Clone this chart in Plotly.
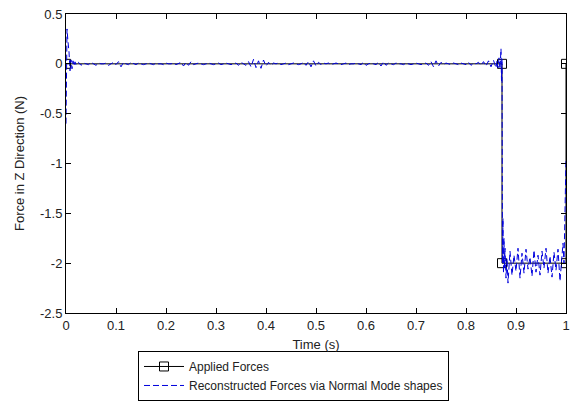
import numpy as np
import plotly.graph_objects as go

# Applied (reference) force: step from 0 N down to -2 N and back
applied_t = [0.0, 0.872, 0.872, 1.0, 1.0]
applied_f = [0.0, 0.0, -2.0, -2.0, 0.0]

# Reconstructed force, start-up transient
start_t = [0.0, 0.002, 0.004, 0.006, 0.008, 0.010, 0.012, 0.014, 0.016, 0.018, 0.020]
start_f = [-0.60, 0.35, 0.22, 0.12, -0.07, 0.04, -0.05, 0.03, -0.02, 0.02, -0.01]

# Reconstructed force on the 0 N plateau, sampled every 5 ms from 0.025 s to 0.860 s
plateau_f = [
    0.015, -0.015, 0.008, 0.0, -0.008, 0.015, 0.0, -0.015, 0.008, 0.0,
    0.0, 0.008, -0.015, 0.0, 0.015, -0.008, 0.022, -0.03, 0.015, 0.0,
    -0.008, 0.015, 0.0, -0.008, 0.008, 0.0, -0.008, 0.0, 0.008, 0.0,
    -0.008, 0.008, 0.0, 0.0, -0.008, 0.008, 0.0, 0.0, 0.008, -0.008,
    0.0, 0.015, -0.022, 0.015, -0.015, 0.022, -0.008, 0.0, 0.008, 0.0,
    -0.008, 0.0, 0.008, 0.0, -0.008, 0.0, 0.008, -0.008, 0.0, 0.008,
    0.0, -0.008, 0.0, 0.008, -0.015, 0.015, 0.0, -0.015, 0.022, -0.03,
    0.045, -0.038, 0.03, -0.045, 0.038, -0.022, 0.015, -0.015, 0.008, 0.0,
    0.008, -0.008, 0.0, 0.008, -0.008, 0.0, 0.008, 0.0, -0.008, 0.0,
    0.015, -0.015, 0.022, -0.03, 0.03, -0.022, 0.015, -0.008, 0.008, 0.0,
    0.008, -0.008, 0.0, 0.008, 0.0, -0.008, 0.0, 0.008, -0.008, 0.0,
    0.0, 0.008, 0.0, -0.008, 0.015, -0.015, 0.0, 0.008, 0.0, -0.008,
    0.015, -0.022, 0.022, -0.015, 0.008, 0.0, -0.008, 0.008, 0.0, 0.0,
    -0.008, 0.008, 0.0, -0.008, 0.0, 0.008, 0.0, -0.008, 0.0, 0.008,
    -0.015, 0.022, -0.03, 0.03, -0.022, 0.015, -0.008, 0.008, 0.0, -0.008,
    0.008, 0.0, -0.008, 0.008, 0.0, -0.008, 0.015, -0.015, 0.008, 0.0,
    0.015, -0.015, 0.022, -0.022, 0.03, -0.03, 0.035, -0.04,
]
plateau_t = list(np.linspace(0.025, 0.860, len(plateau_f)))

# Reconstructed force through the step down
drop_t = [0.862, 0.864, 0.866, 0.868, 0.870, 0.871, 0.872, 0.873, 0.874, 0.875,
          0.876, 0.877, 0.878, 0.880, 0.882, 0.884]
drop_f = [0.03, -0.04, 0.06, -0.05, 0.15, -0.17, 0.05, -2.0, -1.55, -2.1,
          -1.75, -2.05, -1.85, -2.15, -1.95, -2.2]

# Reconstructed force on the -2 N plateau, sampled every 4 ms from 0.888 s to 0.992 s
low_f = [-1.88, -2.12, -1.92, -2.08, -1.85, -2.15, -1.90, -2.10, -1.86, -2.06,
         -1.94, -2.13, -1.87, -2.09, -1.92, -2.12, -1.88, -2.05, -1.85, -2.10,
         -1.93, -2.14, -1.89, -2.07, -1.86, -2.18, -1.95]
low_t = list(np.linspace(0.888, 0.992, len(low_f)))

# Recovery at the end of the record
end_t = [0.994, 0.996, 0.998, 1.0]
end_f = [-1.8, -2.0, -1.6, -0.95]

recon_t = start_t + plateau_t + drop_t + low_t + end_t
recon_f = start_f + plateau_f + drop_f + low_f + end_f

x_ticks = [0, 0.1, 0.2, 0.3, 0.4, 0.5, 0.6, 0.7, 0.8, 0.9, 1]
x_labels = ["0", "0.1", "0.2", "0.3", "0.4", "0.5", "0.6", "0.7", "0.8", "0.9", "1"]
y_ticks = [0.5, 0, -0.5, -1, -1.5, -2, -2.5]
y_labels = ["0.5", "0", "-0.5", "-1", "-1.5", "-2", "-2.5"]

font = dict(family="Liberation Sans, Arial, sans-serif", size=13, color="#222222")
legend_font = dict(family="Liberation Sans, Arial, sans-serif", size=12, color="#222222")

fig = go.Figure()
fig.add_trace(go.Scatter(
    x=applied_t, y=applied_f, mode="lines+markers", name="Applied Forces",
    line=dict(color="black", width=1),
    marker=dict(symbol="square-open", size=9, color="black", line=dict(width=1)),
))
fig.add_trace(go.Scatter(
    x=recon_t, y=recon_f, mode="lines", name="Reconstructed Forces via Normal Mode shapes",
    line=dict(color="#0000dd", width=1, dash="6px,3px"),
))

axis_common = dict(
    showline=True, linecolor="black", linewidth=1, mirror="ticks",
    ticks="inside", ticklen=5, tickcolor="black", tickwidth=1,
    showgrid=False, zeroline=False, tickfont=font, automargin=False,
)
fig.update_layout(
    width=571, height=402,
    margin=dict(l=66, r=5, t=14, b=89, autoexpand=False),
    paper_bgcolor="white", plot_bgcolor="white",
    font=font,
    xaxis=dict(range=[0, 1], tickvals=x_ticks, ticktext=x_labels,
               title=dict(text="Time (s)", font=font, standoff=8), **axis_common),
    yaxis=dict(range=[-2.5, 0.5], tickvals=y_ticks, ticktext=y_labels,
               title=dict(text="Force in Z Direction (N)", font=font, standoff=12), **axis_common),
    legend=dict(x=0.144, y=-0.127, xanchor="left", yanchor="top",
                bordercolor="black", borderwidth=1, bgcolor="white",
                font=legend_font, tracegroupgap=0, itemwidth=40),
    showlegend=True,
)

fig.write_html("out.html")
